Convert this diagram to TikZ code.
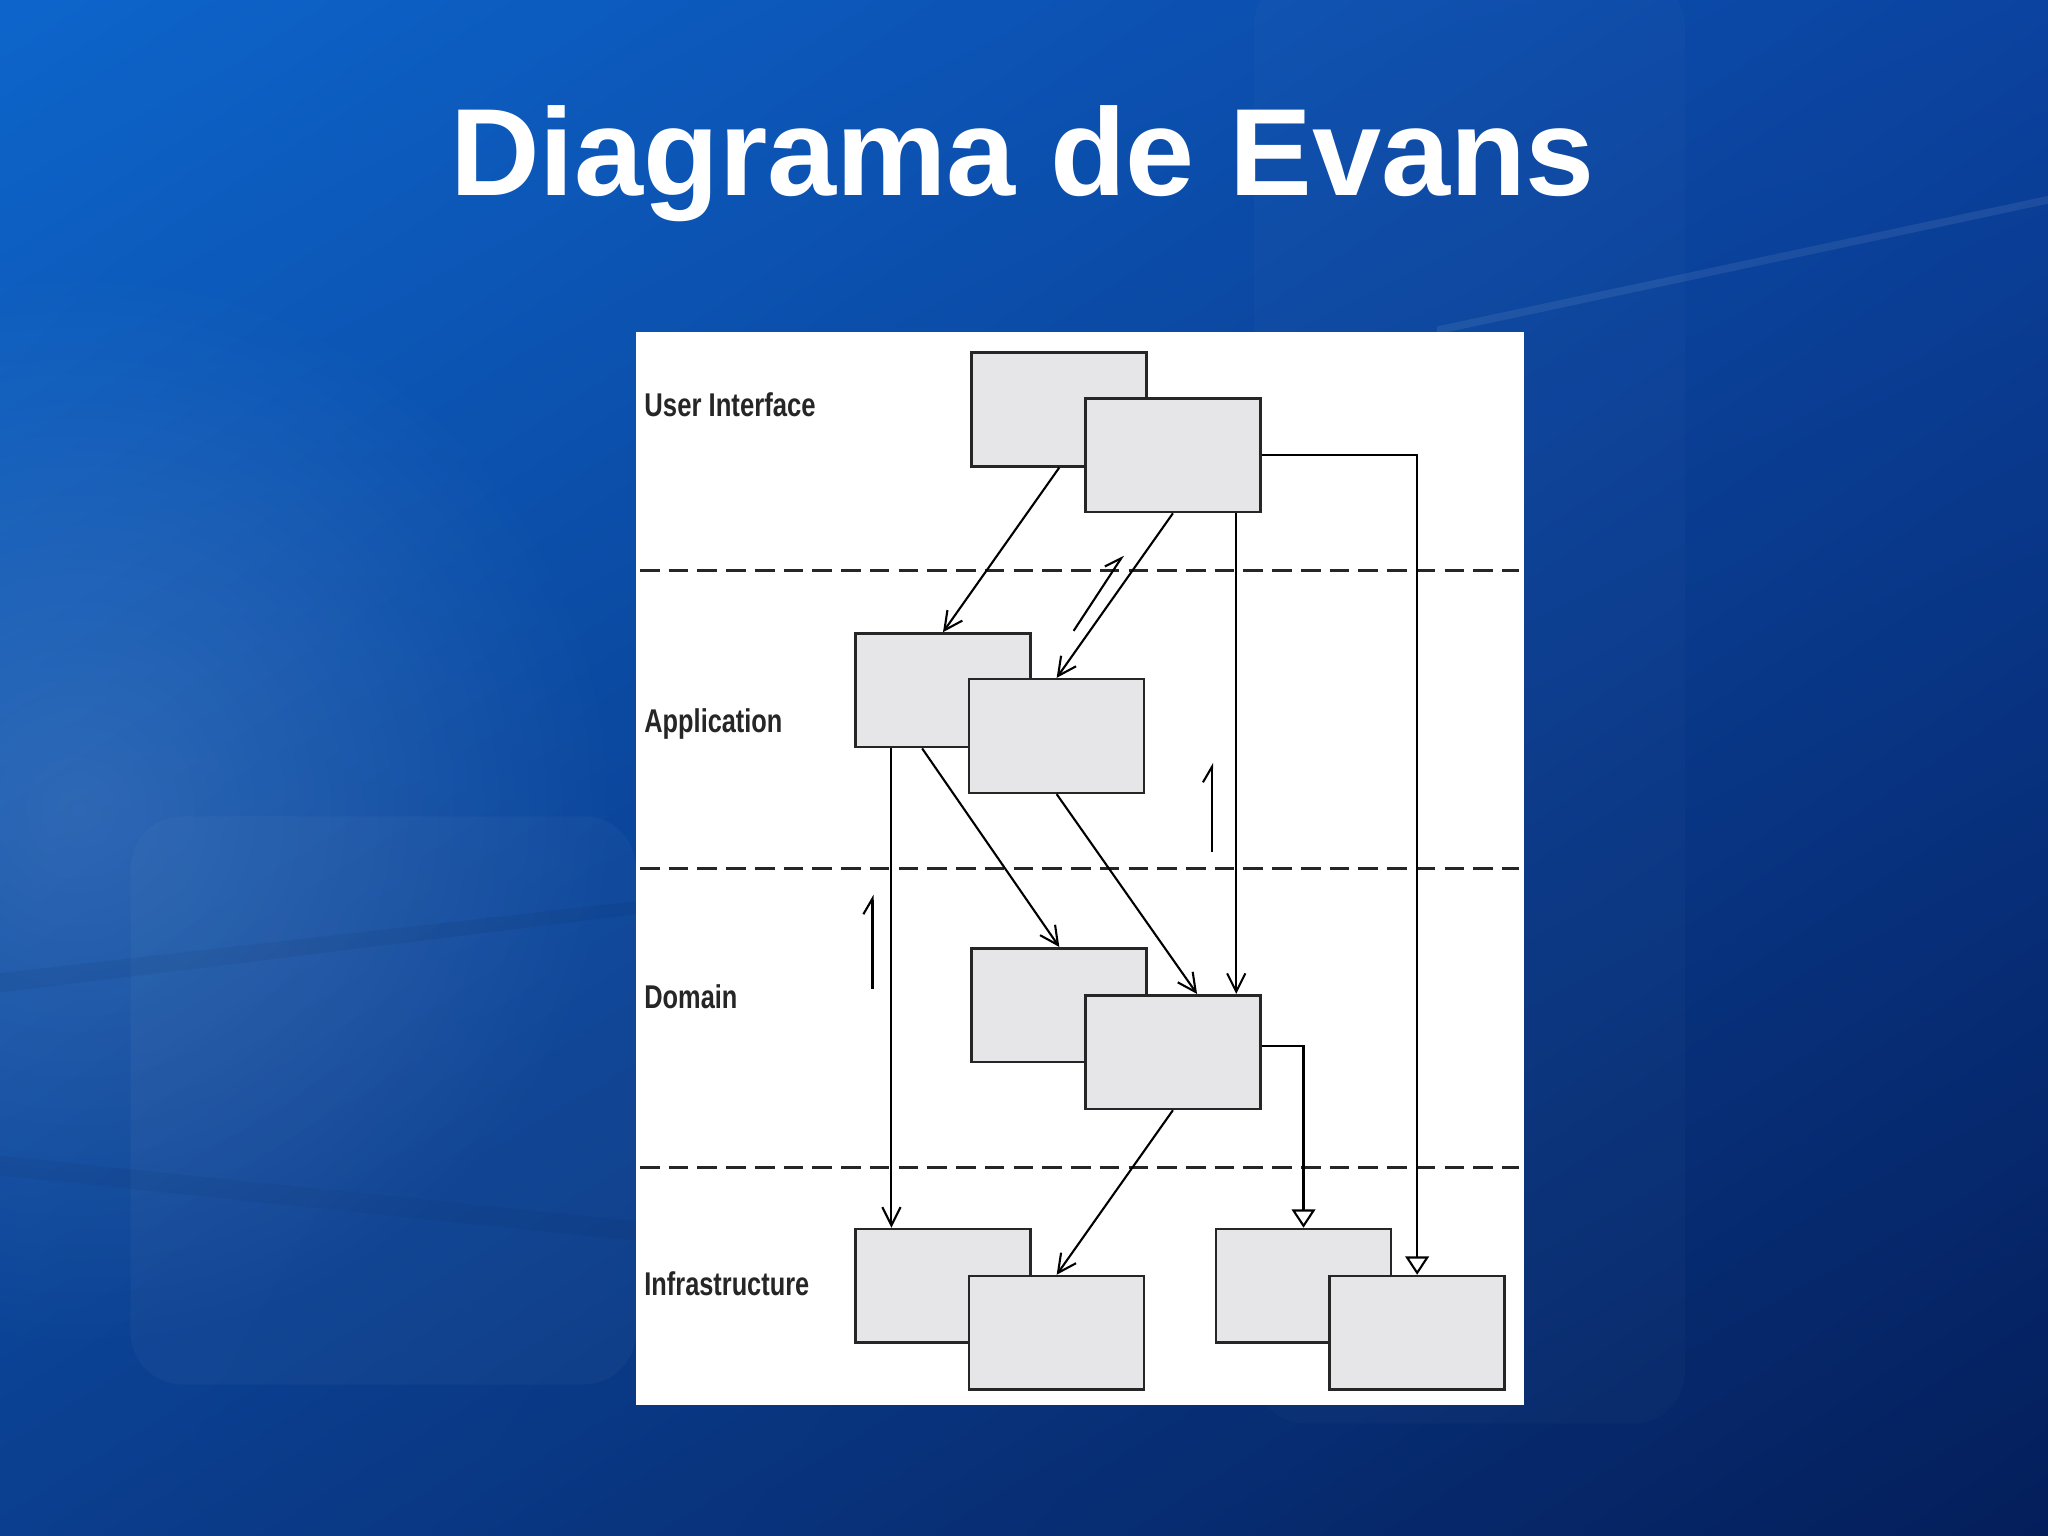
\documentclass[tikz,border=0pt]{standalone}
\usepackage{fontspec}
\setmainfont{Liberation Sans}
\usetikzlibrary{arrows.meta,calc,shadings,fadings}
\definecolor{bgul}{HTML}{0D65CB}
\definecolor{bgur}{HTML}{0B43A0}
\definecolor{bgll}{HTML}{0B3E8E}
\definecolor{bglr}{HTML}{041E5A}
\definecolor{boxgray}{HTML}{E6E5E8}
\tikzfading[name=glow, inner color=transparent!0, outer color=transparent!100]
\begin{document}
\begin{tikzpicture}[x=0.5pt,y=-0.5pt,
    layer/.style={font=\fontsize{12.6}{14}\selectfont\bfseries, text=black!85, anchor=base west, inner sep=0},
    cls/.style={draw=black!85, line width=1pt, fill=boxgray, minimum width=67pt,
        minimum height=43.5pt, inner sep=0, anchor=north west},
    dep/.style={-{Straight Barb[length=7pt,width=7pt]}, line width=0.8pt},
    gen/.style={-{Triangle[length=7pt,width=9pt,fill=white]}, line width=0.8pt},
    ret/.style={-{Straight Barb[harpoon,length=6pt,width=7pt]}, line width=0.8pt}]
    % background
    \useasboundingbox (0,0) rectangle (1568,1176);
    \shade[upper left=bgul, upper right=bgur, lower left=bgll, lower right=bglr]
        (0,0) rectangle (1568,1176);
    \fill[white, opacity=0.14, path fading=glow] (60,620) circle (420);
    \fill[white, opacity=0.03, rounded corners=20] (100,625) rectangle (487,1060);
    \fill[white, opacity=0.02, rounded corners=20] (960,-20) rectangle (1290,1090);
    \fill[black, opacity=0.05] (0,745) -- (487,690) -- (487,700) -- (0,760) -- cycle;
    \fill[black, opacity=0.04] (0,885) -- (487,935) -- (487,950) -- (0,900) -- cycle;
    \fill[white, opacity=0.08] (1100,250) -- (1568,150) -- (1568,156) -- (1100,256) -- cycle;
    \node[anchor=base, text=white, font=\fontsize{47.5}{50}\selectfont\bfseries]
        (title) at (783,150) {Diagrama de Evans};
    % panel and layers
    \fill[white] (487,254) rectangle (1167,1076);
    \foreach \y in {437,665,894} {
        \draw[dash pattern=on 7.5pt off 3.5pt, line width=1pt, black!85] (490,\y) -- (1163,\y);
    }
    \node[layer] (lui)  at (493,319) {\scalebox{0.78}[1]{User Interface}};
    \node[layer] (lapp) at (493,561) {\scalebox{0.77}[1]{Application}};
    \node[layer] (ldom) at (493,772) {\scalebox{0.77}[1]{Domain}};
    \node[layer] (linf) at (493,992) {\scalebox{0.77}[1]{Infrastructure}};
    % classes
    \node[cls] (ui1)  at (743,269) {};
    \node[cls] (ui2)  at (830,304) {};
    \node[cls] (app1) at (654,484) {};
    \node[cls] (app2) at (741,519) {};
    \node[cls] (dom1) at (743,725) {};
    \node[cls] (dom2) at (830,761) {};
    \node[cls] (inf1) at (654,940) {};
    \node[cls] (inf2) at (741,976) {};
    \node[cls] (inf3) at (930,940) {};
    \node[cls] (inf4) at (1017,976) {};
    % dependencies
    \draw[dep] (ui1.south) -- (app1.north);
    \draw[dep] (ui2.south) -- (app2.north);
    \draw[dep] ($(ui2.south)+(48.5,0)$) -- ($(dom2.north)+(48.5,0)$);
    \draw[gen] (ui2.east) -| (inf4.north);
    \draw[dep] ($(app1.south)+(-39.5,0)$) -- ($(inf1.north)+(-39.5,0)$);
    \draw[dep] ($(app1.south)+(-16,0)$) -- (dom1.north);
    \draw[dep] (app2.south) -- ($(dom2.north)+(18.5,0)$);
    \draw[dep] (dom2.south) -- (inf2.north);
    \draw[gen] ($(dom2.east)+(0,-5)$) -| (inf3.north);
    % callbacks
    \coordinate (r1a) at (822,483); \coordinate (r1b) at (860,425);
    \coordinate (r2a) at (928,652); \coordinate (r2b) at (928,584);
    \coordinate (r3a) at (668,757); \coordinate (r3b) at (668,685);
    \draw[ret] (r1a) -- (r1b);
    \draw[ret] (r2a) -- (r2b);
    \draw[ret] (r3a) -- (r3b);
\end{tikzpicture}
\end{document}
